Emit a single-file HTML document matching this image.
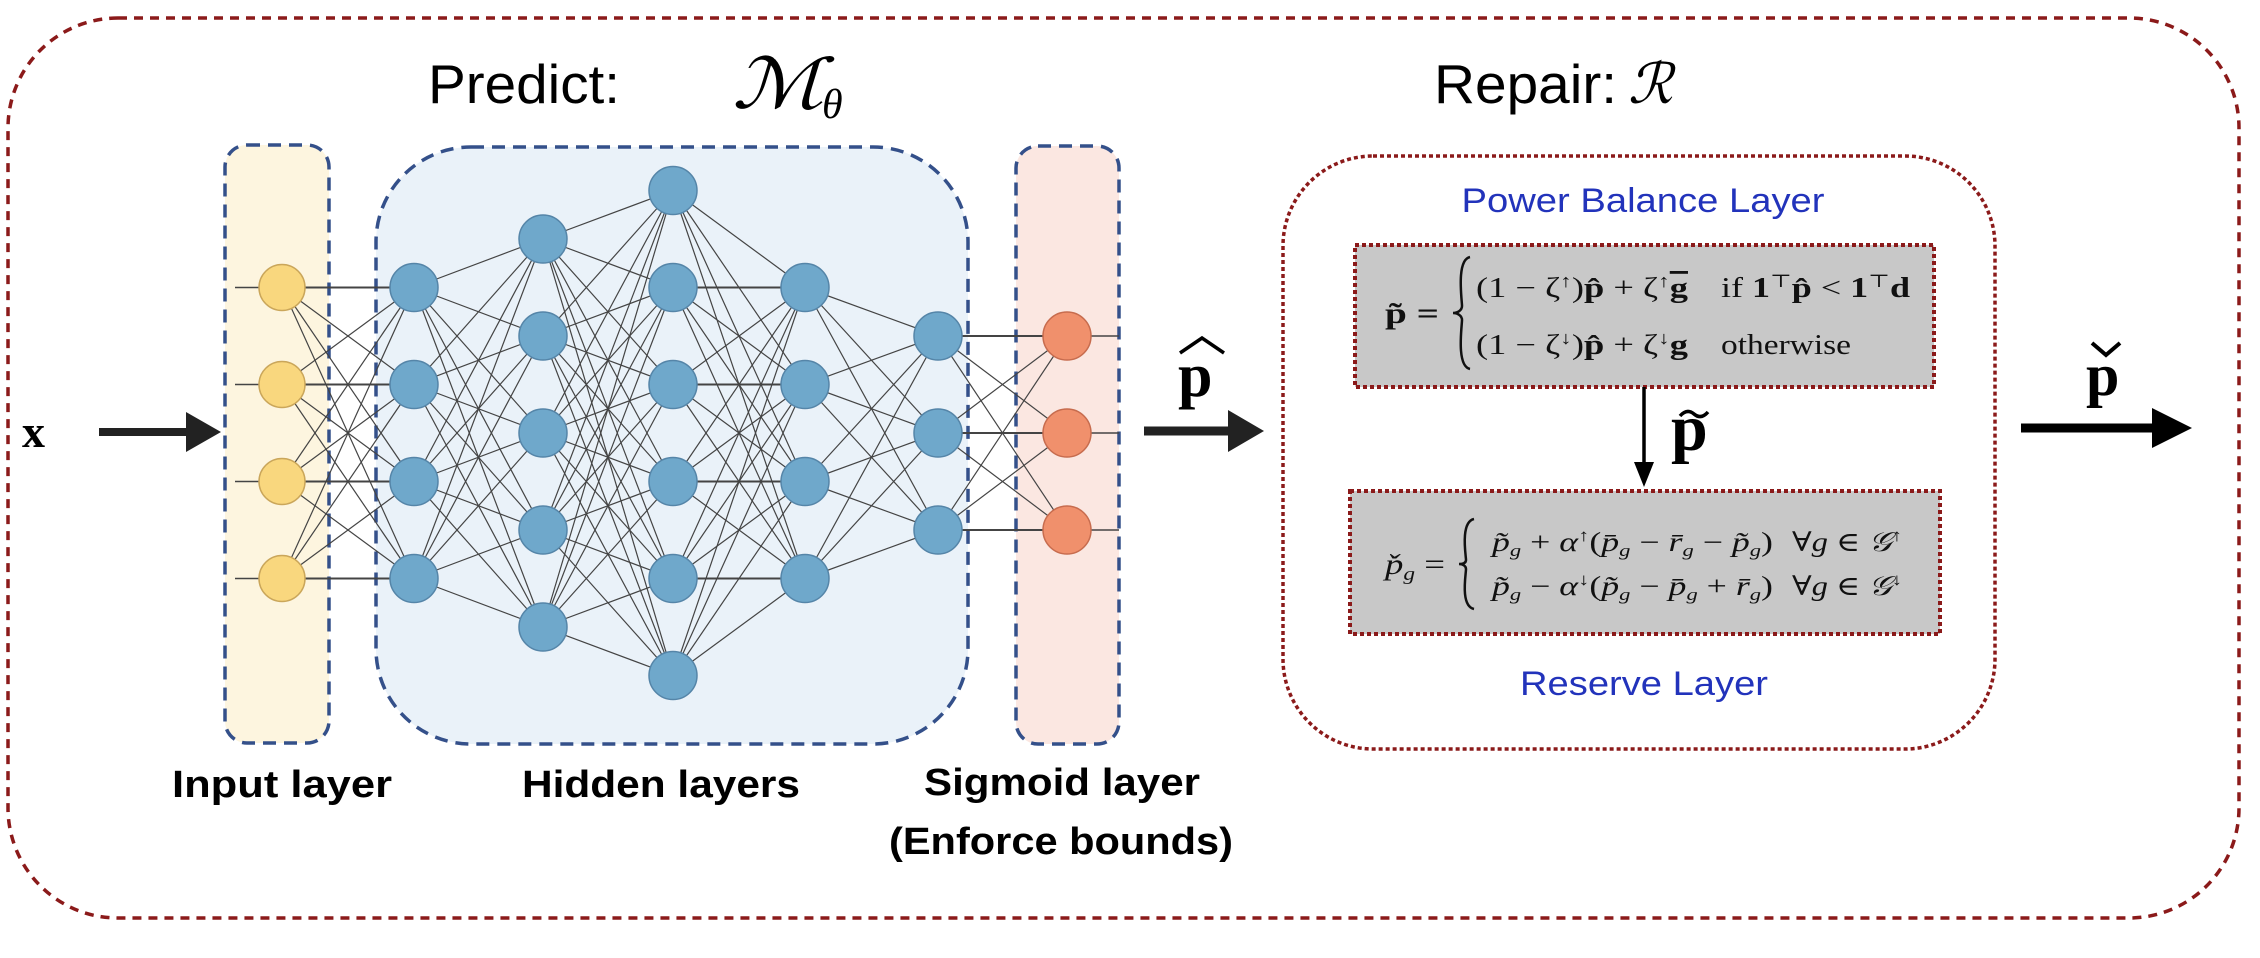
<!DOCTYPE html>
<html><head><meta charset="utf-8">
<style>
html,body{margin:0;padding:0;background:#fff;}
svg{display:block;}
.ser{font-family:"Liberation Serif","DejaVu Serif",serif;}
.san{font-family:"Liberation Sans","DejaVu Sans",sans-serif;}
.nar{font-family:"Liberation Sans Narrow","Liberation Sans","DejaVu Sans Condensed",sans-serif;}
</style></head>
<body>
<svg id="s" width="2260" height="958" viewBox="0 0 2260 958" xmlns="http://www.w3.org/2000/svg">
<!-- outer -->
<rect x="8" y="18" width="2231" height="900" rx="110" fill="none" stroke="#8b1a1a" stroke-width="3.5" stroke-dasharray="9,7"/>
<!-- titles -->
<text x="428" y="103" class="san" font-size="55" textLength="192" lengthAdjust="spacingAndGlyphs">Predict:</text>
<text x="732" y="108" class="ser" font-size="70" font-style="italic" textLength="92" lengthAdjust="spacingAndGlyphs">ℳ</text>
<text x="822" y="118" class="ser" font-size="42" font-style="italic">θ</text>
<text x="1434" y="103" class="san" font-size="55" textLength="183" lengthAdjust="spacingAndGlyphs">Repair:</text>
<text x="1628" y="103" class="ser" font-size="56" font-style="italic">ℛ</text>
<!-- layer boxes -->
<rect x="225" y="145" width="104" height="598" rx="22" fill="#fdf5df" stroke="#34508a" stroke-width="3.5" stroke-dasharray="13,8"/>
<rect x="376" y="147" width="592" height="597" rx="95" fill="#eaf2f9" stroke="#34508a" stroke-width="3.5" stroke-dasharray="13,8"/>
<rect x="1016" y="146" width="103" height="598" rx="22" fill="#fbe7e1" stroke="#34508a" stroke-width="3.5" stroke-dasharray="13,8"/>
<g id="net"></g>
<!-- labels -->
<text x="282" y="797" text-anchor="middle" class="nar" font-weight="bold" font-size="38" textLength="220" lengthAdjust="spacingAndGlyphs">Input layer</text>
<text x="661" y="797" text-anchor="middle" class="nar" font-weight="bold" font-size="38" textLength="278" lengthAdjust="spacingAndGlyphs">Hidden layers</text>
<text x="1062" y="795" text-anchor="middle" class="nar" font-weight="bold" font-size="38" textLength="276" lengthAdjust="spacingAndGlyphs">Sigmoid layer</text>
<text x="1061" y="854" text-anchor="middle" class="nar" font-weight="bold" font-size="38" textLength="344" lengthAdjust="spacingAndGlyphs">(Enforce bounds)</text>
<!-- x arrow -->
<text x="22" y="447" class="ser" font-weight="bold" font-size="46">x</text>
<line x1="99" y1="432" x2="190" y2="432" stroke="#222" stroke-width="8"/>
<polygon points="186,412 221,432 186,452" fill="#222"/>
<!-- p hat arrow -->
<text x="1178" y="396" class="ser" font-weight="bold" font-size="62">p</text>
<path d="M1180 353 L1202 338 L1224 353" fill="none" stroke="#000" stroke-width="3.5"/>
<line x1="1144" y1="431" x2="1232" y2="431" stroke="#222" stroke-width="9"/>
<polygon points="1228,410 1264,431 1228,452" fill="#222"/>
<!-- repair box -->
<rect x="1283" y="156" width="712" height="593" rx="90" fill="none" stroke="#8b1a1a" stroke-width="3.5" stroke-dasharray="4,3"/>
<text x="1643" y="212" text-anchor="middle" class="san" font-size="34" fill="#2233bb" textLength="363" lengthAdjust="spacingAndGlyphs">Power Balance Layer</text>
<text x="1644" y="695" text-anchor="middle" class="san" font-size="34" fill="#2233bb" textLength="248" lengthAdjust="spacingAndGlyphs">Reserve Layer</text>
<rect x="1355" y="245" width="579" height="142" fill="#c8c8c8" stroke="#8b1a1a" stroke-width="4" stroke-dasharray="4,3"/>
<rect x="1350" y="491" width="590" height="143" fill="#c8c8c8" stroke="#8b1a1a" stroke-width="4" stroke-dasharray="4,3"/>
<!-- top equation -->
<g class="ser" fill="#111">
<text x="1385" y="323" font-size="30" font-weight="bold" textLength="54" lengthAdjust="spacingAndGlyphs">p̃ =</text>
<path d="M1470 257 C1456 260 1462 300 1462 306 C1462 310 1458 313 1453 313 C1458 313 1462 316 1462 320 C1462 326 1456 366 1470 369" fill="none" stroke="#111" stroke-width="2.5"/>
<text x="1476" y="297" font-size="28" textLength="212" lengthAdjust="spacingAndGlyphs">(1 − ζ<tspan font-size="18" dy="-10">↑</tspan><tspan dy="10">)</tspan><tspan font-weight="bold">p̂</tspan> + ζ<tspan font-size="18" dy="-10">↑</tspan><tspan dy="10" font-weight="bold" text-decoration="overline">g</tspan></text>
<text x="1721" y="297" font-size="28" textLength="189" lengthAdjust="spacingAndGlyphs">if <tspan font-weight="bold">1</tspan><tspan font-size="18" dy="-10">⊤</tspan><tspan dy="10" font-weight="bold">p̂</tspan> &lt; <tspan font-weight="bold">1</tspan><tspan font-size="18" dy="-10">⊤</tspan><tspan dy="10" font-weight="bold">d</tspan></text>
<text x="1476" y="354" font-size="28" textLength="212" lengthAdjust="spacingAndGlyphs">(1 − ζ<tspan font-size="18" dy="-10">↓</tspan><tspan dy="10">)</tspan><tspan font-weight="bold">p̂</tspan> + ζ<tspan font-size="18" dy="-10">↓</tspan><tspan dy="10" font-weight="bold" text-decoration="underline">g</tspan></text>
<text x="1721" y="354" font-size="28" textLength="130" lengthAdjust="spacingAndGlyphs">otherwise</text>
</g>
<!-- bottom equation -->
<g class="ser" fill="#111">
<text x="1385" y="574" font-size="30" font-style="italic" textLength="60" lengthAdjust="spacingAndGlyphs">p̌<tspan font-size="19" dy="6">g</tspan><tspan dy="-6" font-style="normal"> =</tspan></text>
<path d="M1474 519 C1460 522 1466 556 1466 560 C1466 563 1463 564 1459 564 C1463 564 1466 566 1466 569 C1466 574 1460 606 1474 609" fill="none" stroke="#111" stroke-width="2.5"/>
<text x="1492" y="551" font-size="27" font-style="italic" textLength="281" lengthAdjust="spacingAndGlyphs">p̃<tspan font-size="17" dy="5">g</tspan><tspan dy="-5" font-style="normal"> + </tspan>α<tspan font-size="17" dy="-10" font-style="normal">↑</tspan><tspan dy="10" font-style="normal">(</tspan>p̄<tspan font-size="17" dy="5">g</tspan><tspan dy="-5" font-style="normal"> − </tspan>r̄<tspan font-size="17" dy="5">g</tspan><tspan dy="-5" font-style="normal"> − </tspan>p̃<tspan font-size="17" dy="5">g</tspan><tspan dy="-5" font-style="normal">)</tspan></text>
<text x="1792" y="551" font-size="27" font-style="italic" textLength="110" lengthAdjust="spacingAndGlyphs"><tspan font-style="normal">∀</tspan>g <tspan font-style="normal">∈</tspan> 𝒢<tspan font-size="17" dy="-10" font-style="normal">↑</tspan></text>
<text x="1492" y="595" font-size="27" font-style="italic" textLength="281" lengthAdjust="spacingAndGlyphs">p̃<tspan font-size="17" dy="5">g</tspan><tspan dy="-5" font-style="normal"> − </tspan>α<tspan font-size="17" dy="-10" font-style="normal">↓</tspan><tspan dy="10" font-style="normal">(</tspan>p̃<tspan font-size="17" dy="5">g</tspan><tspan dy="-5" font-style="normal"> − </tspan>p̄<tspan font-size="17" dy="5">g</tspan><tspan dy="-5" font-style="normal"> + </tspan>r̄<tspan font-size="17" dy="5">g</tspan><tspan dy="-5" font-style="normal">)</tspan></text>
<text x="1792" y="595" font-size="27" font-style="italic" textLength="110" lengthAdjust="spacingAndGlyphs"><tspan font-style="normal">∀</tspan>g <tspan font-style="normal">∈</tspan> 𝒢<tspan font-size="17" dy="-10" font-style="normal">↓</tspan></text>
</g>
<!-- p tilde arrow -->
<line x1="1644" y1="387" x2="1644" y2="466" stroke="#000" stroke-width="3.5"/>
<polygon points="1634,462 1654,462 1644,487" fill="#000"/>
<text x="1671" y="450" class="ser" font-weight="bold" font-size="66">p</text>
<path d="M1680 416 Q1687 408 1694 414 Q1701 420 1708 412" fill="none" stroke="#000" stroke-width="3.5"/>
<!-- p check arrow -->
<text x="2086" y="395" class="ser" font-weight="bold" font-size="60">p</text>
<path d="M2092 343 L2106 355 L2120 343" fill="none" stroke="#000" stroke-width="4"/>
<line x1="2021" y1="428" x2="2156" y2="428" stroke="#000" stroke-width="9"/>
<polygon points="2152,408 2192,428 2152,448" fill="#000"/>
</svg>
<script>
(function(){
var ns="http://www.w3.org/2000/svg",g=document.getElementById("net");
var xs=[282,414,543,673,805,938,1067],ns_=[4,4,5,6,4,3,3],cy=433,sp=97;
var L=[];
for(var i=0;i<xs.length;i++){var a=[];for(var j=0;j<ns_[i];j++)a.push(cy+(j-(ns_[i]-1)/2)*sp);L.push(a);}
function ln(x1,y1,x2,y2,w){var e=document.createElementNS(ns,"line");e.setAttribute("x1",x1);e.setAttribute("y1",y1);e.setAttribute("x2",x2);e.setAttribute("y2",y2);e.setAttribute("stroke","#444");e.setAttribute("stroke-width",w||1.2);g.appendChild(e);}
L[0].forEach(function(y){ln(235,y,xs[0],y,1.5);});
L[6].forEach(function(y){ln(xs[6],y,1119,y,1.5);});
for(var i=0;i<xs.length-1;i++)L[i].forEach(function(y1){L[i+1].forEach(function(y2){ln(xs[i],y1,xs[i+1],y2,Math.abs(y1-y2)<1?2:1.2);});});
for(var i=0;i<xs.length;i++){var f="#6fa8cb",s="#5585a8",r=24;if(i==0){f="#f9d77e";s="#caa65a";r=23;}if(i==6){f="#f0906c";s="#c76c4e";}
L[i].forEach(function(y){var c=document.createElementNS(ns,"ellipse");c.setAttribute("cx",xs[i]);c.setAttribute("cy",y);c.setAttribute("rx",r);c.setAttribute("ry",r);c.setAttribute("fill",f);c.setAttribute("stroke",s);c.setAttribute("stroke-width",1.5);g.appendChild(c);});}
})();
</script>
</body></html>
